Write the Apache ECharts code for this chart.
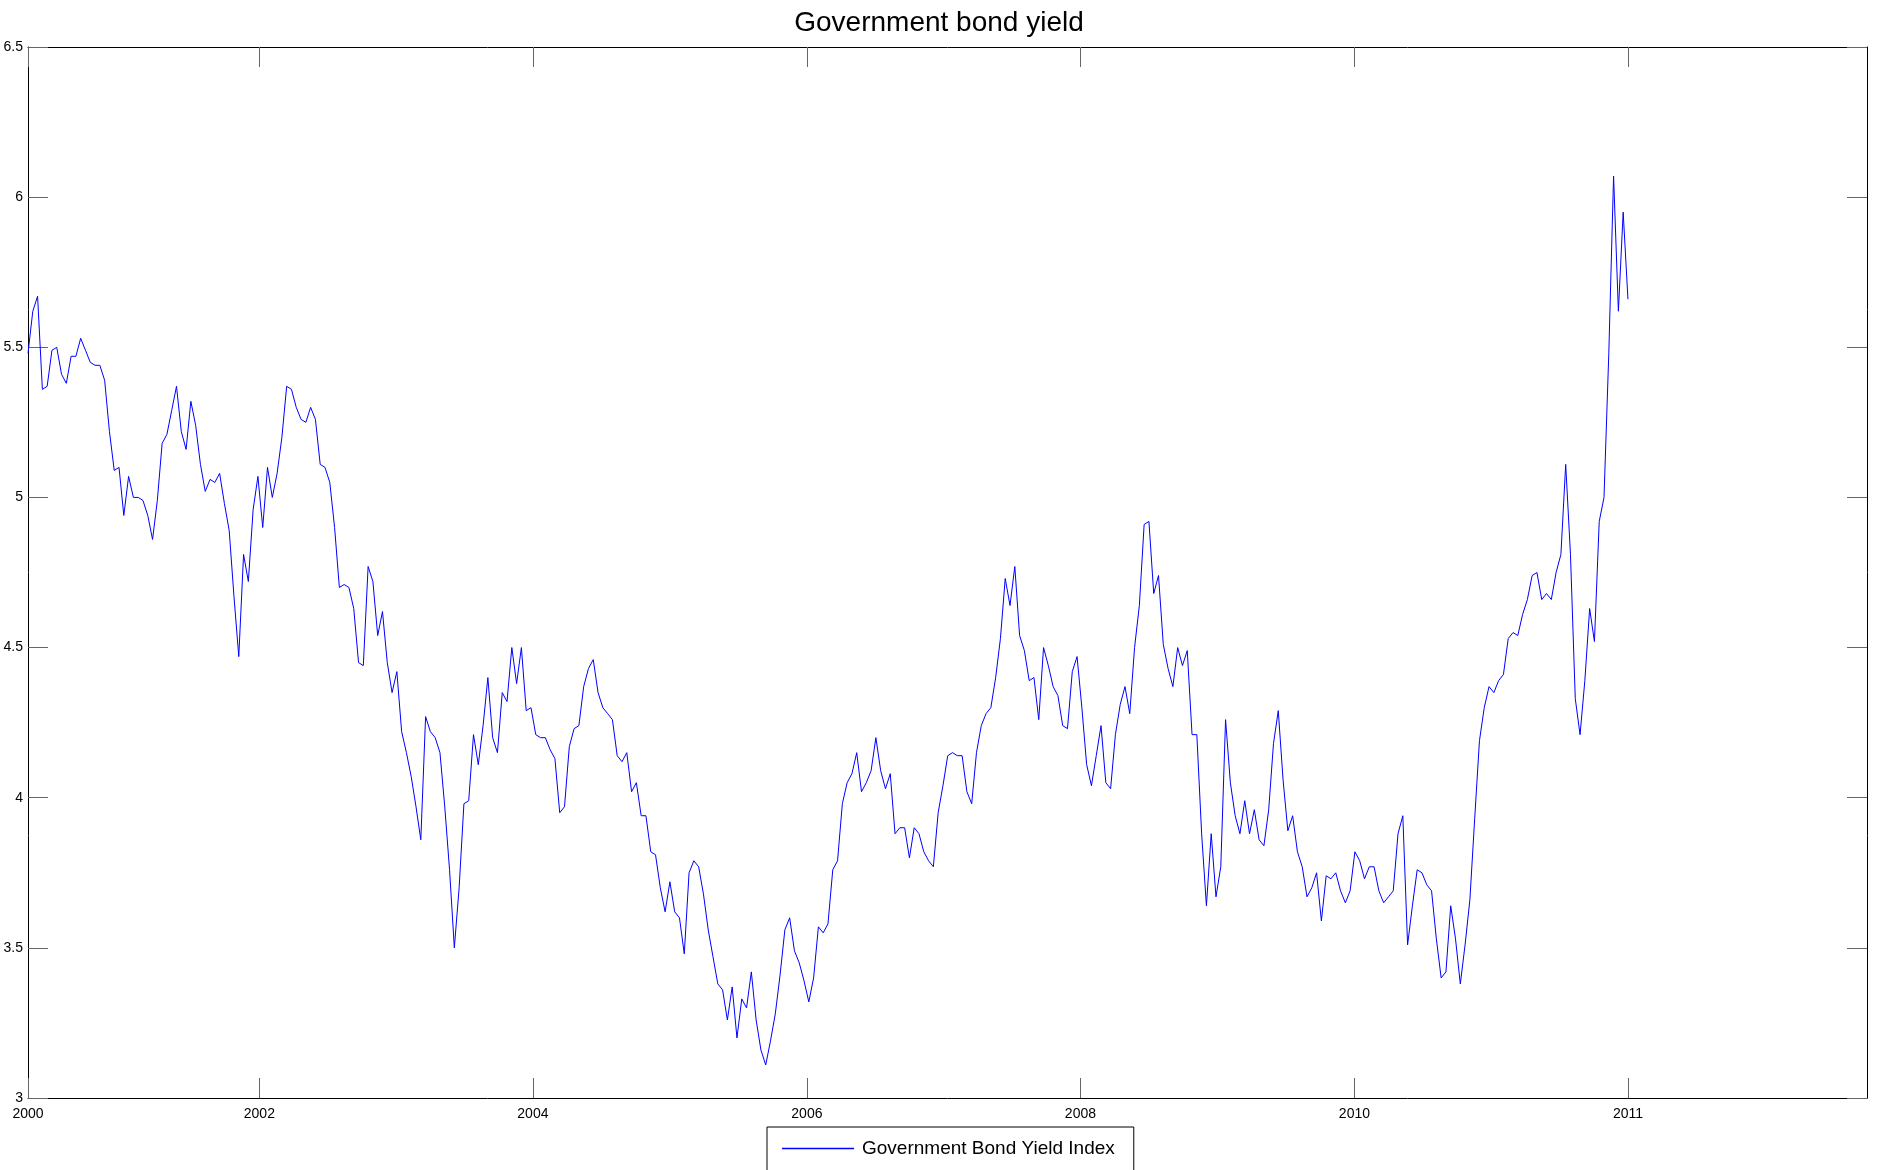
<!DOCTYPE html>
<html><head><meta charset="utf-8">
<script src="https://cdn.jsdelivr.net/npm/echarts@6/dist/echarts.min.js"></script>
<style>html,body{margin:0;padding:0;background:#fff}#chart{width:1878px;height:1170px}</style>
</head><body><div id="chart"></div>
<script>
const chartTitle = 'Government bond yield';
const seriesName = 'Government Bond Yield Index';
// Yield values, equally spaced in time
const yieldValues = [
5.48,5.62,5.67,5.36,5.37,5.49,5.50,5.41,5.38,5.47,
5.47,5.53,5.49,5.45,5.44,5.44,5.39,5.22,5.09,5.10,
4.94,5.07,5.00,5.00,4.99,4.94,4.86,4.99,5.18,5.21,
5.29,5.37,5.22,5.16,5.32,5.24,5.11,5.02,5.06,5.05,
5.08,4.98,4.89,4.67,4.47,4.81,4.72,4.96,5.07,4.90,
5.10,5.00,5.08,5.20,5.37,5.36,5.30,5.26,5.25,5.30,
5.26,5.11,5.10,5.05,4.90,4.70,4.71,4.70,4.63,4.45,
4.44,4.77,4.72,4.54,4.62,4.45,4.35,4.42,4.22,4.15,
4.07,3.97,3.86,4.27,4.22,4.20,4.15,3.97,3.76,3.50,
3.70,3.98,3.99,4.21,4.11,4.24,4.40,4.20,4.15,4.35,
4.32,4.50,4.38,4.50,4.29,4.30,4.21,4.20,4.20,4.16,
4.13,3.95,3.97,4.17,4.23,4.24,4.37,4.43,4.46,4.35,
4.30,4.28,4.26,4.14,4.12,4.15,4.02,4.05,3.94,3.94,
3.82,3.81,3.70,3.62,3.72,3.62,3.60,3.48,3.75,3.79,
3.77,3.68,3.56,3.47,3.38,3.36,3.26,3.37,3.20,3.33,
3.30,3.42,3.26,3.16,3.11,3.19,3.28,3.41,3.56,3.60,
3.49,3.45,3.39,3.32,3.40,3.57,3.55,3.58,3.76,3.79,
3.98,4.05,4.08,4.15,4.02,4.05,4.09,4.20,4.09,4.03,
4.08,3.88,3.90,3.90,3.80,3.90,3.88,3.82,3.79,3.77,
3.95,4.04,4.14,4.15,4.14,4.14,4.02,3.98,4.15,4.24,
4.28,4.30,4.40,4.53,4.73,4.64,4.77,4.54,4.49,4.39,
4.40,4.26,4.50,4.44,4.37,4.34,4.24,4.23,4.42,4.47,
4.30,4.11,4.04,4.14,4.24,4.05,4.03,4.21,4.31,4.37,
4.28,4.50,4.64,4.91,4.92,4.68,4.74,4.51,4.43,4.37,
4.50,4.44,4.49,4.21,4.21,3.88,3.64,3.88,3.67,3.77,
4.26,4.05,3.94,3.88,3.99,3.88,3.96,3.86,3.84,3.96,
4.18,4.29,4.06,3.89,3.94,3.82,3.77,3.67,3.70,3.75,
3.59,3.74,3.73,3.75,3.69,3.65,3.69,3.82,3.79,3.73,
3.77,3.77,3.69,3.65,3.67,3.69,3.88,3.94,3.51,3.64,
3.76,3.75,3.71,3.69,3.53,3.40,3.42,3.64,3.53,3.38,
3.51,3.66,3.93,4.19,4.30,4.37,4.35,4.39,4.41,4.53,
4.55,4.54,4.61,4.66,4.74,4.75,4.66,4.68,4.66,4.75,
4.81,5.11,4.81,4.33,4.21,4.39,4.63,4.52,4.92,5.00,
5.48,6.07,5.62,5.95,5.66
];
// x tick positions (in sample-index units) and their labels
const xTickValues = [0, 48.3, 105.4, 162.6, 219.7, 276.9, 334.0];
const xTickLabels = ['2000','2002','2004','2006','2008','2010','2011'];
const xAxisMax = 383.9;
const yMin = 3, yMax = 6.5, yStep = 0.5;

const seriesData = yieldValues.map((v, i) => [i, v]);
const font = 'Liberation Sans, Arial, sans-serif';
const tickStyle = { show: true, inside: true, length: 20, lineStyle: { color: '#666', width: 1 } };
const lineAxis = { show: true, onZero: false, lineStyle: { color: '#000', width: 1 } };
function xLabel(v) {
  const k = xTickValues.findIndex(t => Math.abs(t - v) < 0.01);
  return k >= 0 ? xTickLabels[k] : '';
}

const chart = echarts.init(document.getElementById('chart'), null, { renderer: 'canvas' });
chart.setOption({
  animation: false,
  backgroundColor: '#fff',
  title: {
    text: chartTitle, left: 'center', top: 4,
    textStyle: { fontFamily: font, fontSize: 28, fontWeight: 'normal', color: '#000' }
  },
  legend: {
    data: [{ name: seriesName, icon: 'rect' }], left: 767, top: 1127,
    borderColor: '#000', borderWidth: 1, padding: [12, 19, 13, 15],
    itemWidth: 72, itemHeight: 1.5,
    textStyle: { fontFamily: font, fontSize: 19, color: '#000', padding: [0, 0, 0, 3] }
  },
  grid: { left: 28, right: 11, top: 47, bottom: 72, containLabel: false },
  xAxis: [{
    type: 'value', position: 'bottom', min: 0, max: xAxisMax,
    axisLine: lineAxis,
    axisTick: Object.assign({}, tickStyle, { customValues: xTickValues }),
    axisLabel: { customValues: xTickValues, formatter: xLabel, margin: 9,
      fontFamily: font, fontSize: 14, color: '#000' },
    splitLine: { show: false }
  }, {
    type: 'value', position: 'top', min: 0, max: xAxisMax,
    axisLine: lineAxis,
    axisTick: Object.assign({}, tickStyle, { customValues: xTickValues }),
    axisLabel: { show: false },
    splitLine: { show: false }
  }],
  yAxis: [{
    type: 'value', position: 'left', min: yMin, max: yMax, interval: yStep,
    axisLine: lineAxis, axisTick: tickStyle,
    axisLabel: { margin: 5, fontFamily: font, fontSize: 14, color: '#000' },
    splitLine: { show: false }
  }, {
    type: 'value', position: 'right', min: yMin, max: yMax, interval: yStep,
    axisLine: lineAxis, axisTick: tickStyle,
    axisLabel: { show: false },
    splitLine: { show: false }
  }],
  series: [{
    name: seriesName, type: 'line', data: seriesData,
    xAxisIndex: 0, yAxisIndex: 0,
    symbol: 'none', showSymbol: false,
    lineStyle: { color: '#0000ff', width: 1 },
    itemStyle: { color: '#0000ff' }
  }]
});
</script></body></html>
